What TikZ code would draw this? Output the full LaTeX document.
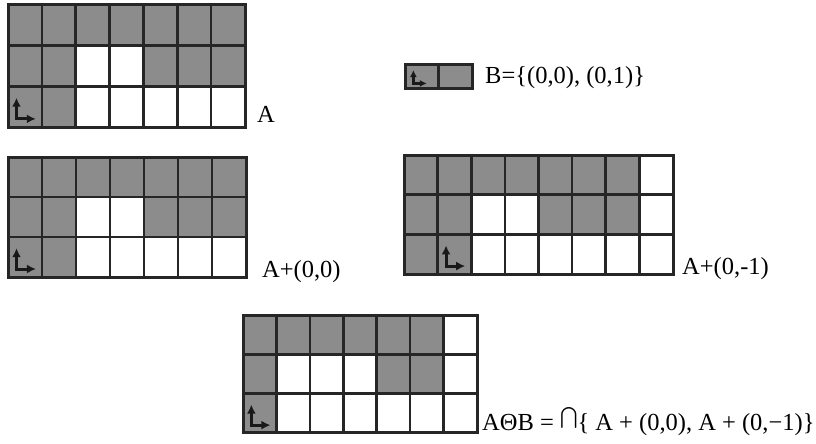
\documentclass[tikz,border=0pt]{standalone}
\usepackage{fontspec}
\setmainfont{Liberation Serif}
\usetikzlibrary{arrows.meta}
\tikzset{
  shadecell/.style={fill=black!45, draw=none},
  gridline/.style={line width=2.6pt, draw=black!85, line cap=rect},
  outerline/.style={line width=3pt, draw=black!85},
  originmark/.style={line width=3pt, draw=black!90, {Latex[length=9pt,width=9pt]}-{Latex[length=9pt,width=9pt]}},
  lbl/.style={anchor=base west, inner sep=0pt, font=\fontsize{24.5}{28}\selectfont},
}
% #1 x0, #2 y0, #3 cell width, #4 cell height, #5 cols, #6 rows, #7 shaded cells, #8 origin col, #9 origin row
\newcommand\drawgrid[9]{%
  \begin{scope}[shift={(#1,#2)}, x=#3pt, y=-#4pt]
    \foreach \c/\r in {#7} {\fill[shadecell] (\c,\r) rectangle ++(1,1);}
    \foreach \i in {0,...,#5} {\draw[gridline] (\i,0) -- (\i,#6);}
    \foreach \j in {0,...,#6} {\draw[gridline] (0,\j) -- (#5,\j);}
    \draw[outerline] (0,0) rectangle (#5,#6);
    \draw[originmark] (#8+.25,#9+.28) -- (#8+.25,#9+.8) -- (#8+.82,#9+.8);
  \end{scope}}
\begin{document}
\begin{tikzpicture}[x=1pt, y=-1pt]
  \useasboundingbox (0,0) rectangle (816,444);
  % A
  \drawgrid{8}{5}{33.86}{40.67}{7}{3}{0/0,1/0,2/0,3/0,4/0,5/0,6/0,0/1,1/1,4/1,5/1,6/1,0/2,1/2}{0}{2}
  % B
  \begin{scope}[shift={(405,65)}, x=33.5pt, y=-23pt]
    \fill[shadecell] (0,0) rectangle (2,1);
    \draw[gridline] (1,0) -- (1,1);
    \draw[outerline] (0,0) rectangle (2,1);
    \draw[line width=2.6pt, draw=black!90, {Latex[length=7pt,width=7pt]}-{Latex[length=7pt,width=7pt]}] (.25,.22) -- (.25,.8) -- (.65,.8);
  \end{scope}
  % A+(0,0)
  \drawgrid{8}{157}{34}{40}{7}{3}{0/0,1/0,2/0,3/0,4/0,5/0,6/0,0/1,1/1,4/1,5/1,6/1,0/2,1/2}{0}{2}
  % A+(0,-1)
  \drawgrid{404}{155}{33.63}{39.67}{8}{3}{0/0,1/0,2/0,3/0,4/0,5/0,6/0,0/1,1/1,4/1,5/1,6/1,0/2,1/2}{1}{2}
  % A Theta B
  \drawgrid{243}{315}{33.43}{39.33}{7}{3}{0/0,1/0,2/0,3/0,4/0,5/0,0/1,4/1,5/1,0/2}{0}{2}
  % labels
  \node[lbl] (labA) at (257,122) {A};
  \node[lbl] (labB) at (485,83) {B=\{(0,0), (0,1)\}};
  \node[lbl] (labA0) at (262,277) {A+(0,0)};
  \node[lbl] (labA1) at (682,274) {A+(0,-1)};
  \node[lbl] (labE) at (482,430) {AΘB = \raisebox{-1pt}{\scalebox{2.1}{$\bigcap$}}\{ A + (0,0), A + (0,−1)\}};
\end{tikzpicture}
\end{document}
